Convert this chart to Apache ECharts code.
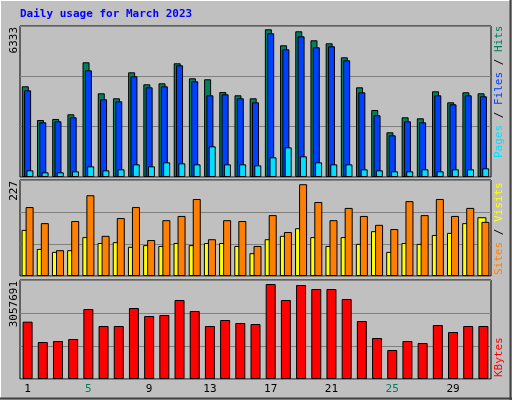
<!DOCTYPE html>
<html><head><meta charset="utf-8">
<script src="https://cdn.jsdelivr.net/npm/echarts@6/dist/echarts.min.js"></script>
<style>html,body{margin:0;padding:0;background:#c0c0c0}#c{width:512px;height:400px}</style>
</head><body><div id="c"></div>
<script>
const days = ['1','2','3','4','5','6','7','8','9','10','11','12','13','14','15','16','17','18','19','20','21','22','23','24','25','26','27','28','29','30','31'];
const weekend = ['5','11','12','18','19','25','26'];
const hits = [3804,2391,2433,2630,4811,3510,3301,4391,3888,3930,4769,4140,4098,3565,3427,3301,6195,5524,6111,5733,5607,5020,3762,2810,1875,2504,2462,3594,3133,3552,3510];
const files = [3636,2294,2336,2504,4475,3259,3175,4223,3762,3804,4685,4014,3427,3468,3301,3133,6027,5356,5901,5440,5482,4894,3552,2588,1749,2336,2294,3427,3049,3427,3385];
const pages = [280,196,196,238,447,280,322,531,447,615,573,531,1286,531,531,489,825,1244,867,615,531,531,322,280,238,238,322,238,322,322,364];
const sites = [109,64,57,61,92,78,80,69,73,71,78,73,78,78,71,54,87,95,113,92,71,92,76,106,57,78,76,97,102,125,139];
const visits = [163,125,61,130,191,95,137,163,85,132,142,182,87,132,130,71,144,104,217,175,132,161,142,121,111,177,144,182,142,161,128];
const kbytes = [1770740,1142745,1173630,1235400,2161950,1636905,1636905,2192835,1945755,1976640,2439915,2100180,1636905,1822215,1729560,1698675,2934075,2439915,2903190,2779650,2779650,2470800,1791330,1266285,895665,1173630,1111860,1667790,1451595,1636905,1636905];
const maxLabels = ['6333','227','3057691'];
const axMax = [6333,227,3057691];

const font = 'DejaVu Sans Mono';
const chart = echarts.init(document.getElementById('c'));
const grids = [
  {left:20,right:21,top:26,height:151},
  {left:20,right:21,top:180,height:96},
  {left:20,right:21,top:280,height:99}
].map(g=>Object.assign(g,{show:true,backgroundColor:'#c0c0c0',borderColor:'#000',borderWidth:1}));
const xAxes = grids.map((g,i)=>({type:'category',gridIndex:i,data:days,
  axisLine:{show:false},axisTick:{show:false},
  axisLabel:{show:i===2,margin:5,fontFamily:font,fontSize:11,
    formatter:v=>weekend.includes(v)?'{w|'+v+'}':'{d|'+v+'}',
    rich:{w:{color:'#00805c',fontFamily:font,fontSize:11},d:{color:'#000',fontFamily:font,fontSize:11}}}}));
const yAxes = axMax.map((m,i)=>({type:'value',gridIndex:i,min:0,max:m,interval:m/3,
  axisLabel:{show:false},axisLine:{show:false},axisTick:{show:false},
  splitLine:{show:true,lineStyle:{color:'#808080',width:1}}}));
const bs = (c)=>({color:c,borderColor:'#000',borderWidth:1});
const series = [
  {type:'bar',xAxisIndex:0,yAxisIndex:0,data:hits,barWidth:7,barGap:'-67%',itemStyle:bs('#00805c')},
  {type:'bar',xAxisIndex:0,yAxisIndex:0,data:files,barWidth:7,barGap:'-67%',itemStyle:bs('#0040ff')},
  {type:'bar',xAxisIndex:0,yAxisIndex:0,data:pages,barWidth:7,barGap:'-67%',itemStyle:bs('#00e0ff')},
  {type:'bar',xAxisIndex:1,yAxisIndex:1,data:sites,barWidth:9,barGap:'-55%',itemStyle:bs('#ffff00')},
  {type:'bar',xAxisIndex:1,yAxisIndex:1,data:visits,barWidth:8,barGap:'-55%',itemStyle:bs('#ff8000')},
  {type:'bar',xAxisIndex:2,yAxisIndex:2,data:kbytes,barWidth:10,itemStyle:bs('#ff0000')}
].map(s=>Object.assign(s,{animation:false,silent:true}));
const tf = {fontFamily:font,fontSize:11};
const rot = (x,y,text,rich,align)=>({type:'text',x:x,y:y,rotation:Math.PI/2,
  style:Object.assign({text:text,rich:rich,textAlign:align,textVerticalAlign:'middle',fill:'#000'},tf)});
const graphic = [
  {type:'line',shape:{x1:0,y1:0.5,x2:511,y2:0.5},style:{stroke:'#fff',lineWidth:1}},
  {type:'line',shape:{x1:0.5,y1:0,x2:0.5,y2:399},style:{stroke:'#fff',lineWidth:1}},
  {type:'line',shape:{x1:0,y1:398.5,x2:512,y2:398.5},style:{stroke:'#404040',lineWidth:2}},
  {type:'line',shape:{x1:510.5,y1:0,x2:510.5,y2:400},style:{stroke:'#404040',lineWidth:2}},
  {type:'text',x:20,y:9,style:Object.assign({text:'Daily usage for March 2023',fill:'#0000ff',fontWeight:'bold'},tf)},
  rot(14,27,maxLabels[0],null,'right'),
  rot(14,181,maxLabels[1],null,'right'),
  rot(14,281,maxLabels[2],null,'right'),
  rot(499,158,'{p|Pages}{k| / }{f|Files}{k| / }{h|Hits}',
    {p:Object.assign({fill:'#00e0ff'},tf),f:Object.assign({fill:'#0040ff'},tf),h:Object.assign({fill:'#00805c'},tf),k:Object.assign({fill:'#000'},tf)},'left'),
  rot(499,275,'{s|Sites}{k| / }{v|Visits}',
    {s:Object.assign({fill:'#ff8000'},tf),v:Object.assign({fill:'#ffff00'},tf),k:Object.assign({fill:'#000'},tf)},'left'),
  rot(499,377,'{r|KBytes}',{r:Object.assign({fill:'#ff0000'},tf)},'left')
];
chart.setOption({backgroundColor:'#c0c0c0',animation:false,grid:grids,xAxis:xAxes,yAxis:yAxes,series:series,graphic:graphic});
</script></body></html>
